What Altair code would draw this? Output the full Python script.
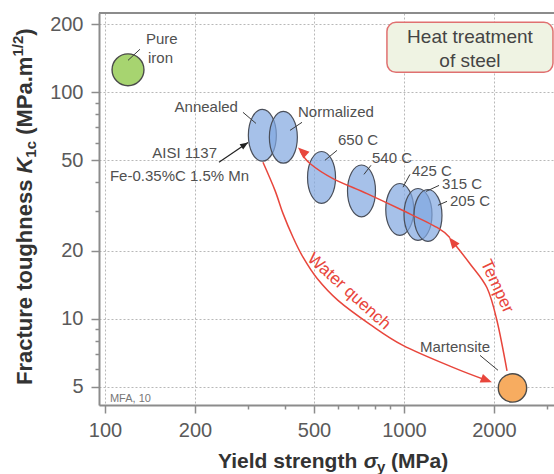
import altair as alt
import pandas as pd

FONT = "Liberation Sans"
RED = "#e8463c"
TXT = "#505050"

# ---------------- axes ----------------
X_DOMAIN = [95.5, 3175]
Y_DOMAIN = [4.16, 224]
x_major = [100, 200, 500, 1000, 2000]
x_minor = [300, 400, 600, 700, 800, 900, 3000]
y_major = [5, 10, 20, 50, 100, 200]
y_minor = [6, 7, 8, 9, 30, 40, 60, 70, 80, 90]

# ---------------- materials ----------------
circle_names = ["Pure iron", "Martensite"]
circle_sigma = [119.4, 2306]
circle_k1c = [125.7, 4.95]

ellipse_names = ["Annealed", "Normalized", "650 C", "540 C", "425 C", "315 C", "205 C"]
ellipse_sigma = [336, 395, 530, 721, 968, 1114, 1203]
ellipse_k1c = [64.6, 63.3, 42.1, 36.7, 30.4, 28.9, 28.6]

# ---------------- labels ----------------
label_text = ["Pure", "iron", "Annealed", "Normalized", "650 C", "540 C", "425 C",
              "315 C", "205 C", "AISI 1137", "Fe-0.35%C 1.5% Mn", "Martensite"]
label_sigma = [137.1, 139.3, 278.5, 442, 601.5, 781.6, 1063, 1340, 1425, 237, 103.9, 1131]
label_k1c = [171.4, 141.3, 85.9, 81.6, 61.4, 51.1, 44.8, 39.2, 33.0, 53.8, 42.6, 7.47]
label_side = ["left", "left", "right", "left", "left", "left", "left",
              "left", "left", "right", "left", "left"]

# leader lines (label -> marker)
leader_sigma1 = [130.9, 289.4, 456, 597, 775.6, 1047, 1310, 1393, 1796]
leader_k1c1 = [154.9, 81.6, 73.7, 55.4, 47.6, 43.4, 38.8, 33.0, 6.89]
leader_sigma2 = [119.4, 319.9, 415.7, 544.3, 734.8, 992.4, 1185, 1299, 2063]
leader_k1c2 = [138.4, 72.9, 67.9, 50.1, 43.4, 38.1, 36.5, 31.7, 5.92]

# AISI arrow
aisi_sigma = [240.6, 300.9]
aisi_k1c = [49.1, 60.1]

# process paths
quench_sigma = [337.6, 370.3, 393.8, 425.4, 459.5, 511.7, 601.5, 769.6, 992, 1458, 1895]
quench_k1c = [49.1, 36.9, 29.2, 22.9, 18.7, 15.1, 12.06, 9.45, 7.63, 6.10, 5.34]
temper_sigma = [2211, 2047, 1895, 1662, 1447]
temper_k1c = [5.89, 9.80, 13.7, 17.5, 22.1]
trend_sigma = [1425, 1289.5, 992, 752, 578.8, 484.9, 450]
trend_k1c = [22.8, 25.3, 30.05, 35.7, 41.6, 48.5, 55.0]

# arrow heads (tip position, screen angle)
head_sigma = [1969, 1414, 442]
head_k1c = [5.24, 22.9, 57.1]
head_angle = [21, 232, 222]

# process labels
proc_text = ["Water quench", "Temper"]
proc_sigma = [654.6, 2047]
proc_k1c = [13.2, 13.9]
proc_angle = [42, 65]

# box
box_sigma = [877, 3150]
box_k1c = [203.8, 122.5]
box_text = ["Heat treatment", "of steel"]
box_text_sigma = [1662, 1662]
box_text_k1c = [175, 137]

# ---------------- scales / axes ----------------
XT = "indexof([100,200,500,1000,2000], datum.value) >= 0"
YT = "indexof([5,10,20,50,100,200], datum.value) >= 0"

xscale = alt.Scale(type="log", domain=X_DOMAIN, nice=False)
yscale = alt.Scale(type="log", domain=Y_DOMAIN, nice=False)

common_axis = dict(
    title=None, labelFont=FONT, labelFontSize=20, labelColor="#5a5a5a",
    domainColor="#8c8c8c", domainWidth=2, tickColor="#8c8c8c", tickWidth=1.5,
    gridColor="#b8b8b8", gridDash=[2, 2], gridWidth=1, format="d",
)
x_axis = alt.Axis(
    values=x_major + x_minor,
    labelExpr=f"{XT} ? datum.label : ''",
    tickSize={"condition": {"test": XT, "value": 8}, "value": 4},
    gridOpacity={"condition": {"test": XT, "value": 1}, "value": 0},
    labelPadding=7, labelFlush=False, labelOverlap=False,
    **common_axis,
)
y_axis = alt.Axis(
    values=y_major + y_minor,
    labelExpr=f"{YT} ? datum.label : ''",
    tickSize={"condition": {"test": YT, "value": 8}, "value": 4},
    gridOpacity={"condition": {"test": YT, "value": 1}, "value": 0},
    labelPadding=8, labelFlush=False, labelOverlap=False,
    **common_axis,
)


def X(f="x"):
    return alt.X(f"{f}:Q", scale=xscale, axis=x_axis)


def Y(f="y"):
    return alt.Y(f"{f}:Q", scale=yscale, axis=y_axis)


# ---------------- data frames ----------------
df_ell = pd.DataFrame({"name": ellipse_names, "x": ellipse_sigma, "y": ellipse_k1c})
df_circ = pd.DataFrame({"name": circle_names, "x": circle_sigma, "y": circle_k1c,
                        "fill": ["#a7d470", "#f7ac60"], "size": [1018, 804]})
df_lab = pd.DataFrame({"t": label_text, "x": label_sigma, "y": label_k1c, "side": label_side})
df_lead = pd.DataFrame({"x": leader_sigma1, "y": leader_k1c1, "x2": leader_sigma2, "y2": leader_k1c2})
curves = []
for name, xs, ys in [("quench", quench_sigma, quench_k1c),
                     ("temper", temper_sigma, temper_k1c),
                     ("trend", trend_sigma, trend_k1c)]:
    for i, (a, b) in enumerate(zip(xs, ys)):
        curves.append({"c": name, "o": i, "x": a, "y": b})
df_curves = pd.DataFrame(curves)
df_heads = pd.DataFrame({"x": head_sigma, "y": head_k1c, "a": head_angle})
df_proc = pd.DataFrame({"t": proc_text, "x": proc_sigma, "y": proc_k1c, "a": proc_angle})

ELLIPSE = "M0,-1.85A1,1.85,0,1,1,0,1.85A1,1.85,0,1,1,0,-1.85Z"
ARROW = "M0,0L-2,-0.8L-2,0.8Z"

layers = []

# top frame line
layers.append(
    alt.Chart(alt.Data(values=[{"x": X_DOMAIN[0], "x2": X_DOMAIN[1], "y": Y_DOMAIN[1]}]))
    .mark_rule(color="#8c8c8c", strokeWidth=2)
    .encode(x=X(), x2="x2:Q", y=Y())
)

# box
layers.append(
    alt.Chart(alt.Data(values=[{"x": box_sigma[0], "x2": box_sigma[1], "y": box_k1c[0], "y2": box_k1c[1]}]))
    .mark_rect(fill="#eff3e3", stroke="#e07070", strokeWidth=1.5, cornerRadius=9)
    .encode(x=X(), x2="x2:Q", y=Y(), y2="y2:Q")
)
layers.append(
    alt.Chart(pd.DataFrame({"t": box_text, "x": box_text_sigma, "y": box_text_k1c}))
    .mark_text(font=FONT, fontSize=19, color="#444444", align="center", baseline="middle")
    .encode(x=X(), y=Y(), text="t:N")
)

# ellipses
layers.append(
    alt.Chart(df_ell)
    .mark_point(shape=ELLIPSE, size=784, filled=True, fill="#80a7df", fillOpacity=0.7,
                stroke="#4a4f5a", strokeWidth=1.2, opacity=1)
    .encode(x=X(), y=Y())
)

# circles
layers.append(
    alt.Chart(df_circ)
    .mark_point(shape="circle", filled=True, stroke="#4a4a4a", strokeWidth=1.4, opacity=1)
    .encode(x=X(), y=Y(), fill=alt.Fill("fill:N", scale=None),
            size=alt.Size("size:Q", scale=None))
)

# leader lines
layers.append(
    alt.Chart(df_lead).mark_rule(color="#3a3a3a", strokeWidth=1)
    .encode(x=X(), y=Y(), x2="x2:Q", y2="y2:Q")
)
layers.append(
    alt.Chart(alt.Data(values=[{"x": aisi_sigma[0], "y": aisi_k1c[0], "x2": aisi_sigma[1], "y2": aisi_k1c[1]}]))
    .mark_rule(color="#222222", strokeWidth=1.2)
    .encode(x=X(), y=Y(), x2="x2:Q", y2="y2:Q")
)
layers.append(
    alt.Chart(alt.Data(values=[{"x": aisi_sigma[1], "y": aisi_k1c[1], "a": 326}]))
    .mark_point(shape=ARROW, size=64, filled=True, fill="#222222", opacity=1, strokeWidth=0)
    .encode(x=X(), y=Y(), angle=alt.Angle("a:Q", scale=None))
)

# process curves
layers.append(
    alt.Chart(df_curves).mark_line(color=RED, strokeWidth=1.5, interpolate="cardinal")
    .encode(x=X(), y=Y(), detail="c:N", order="o:Q")
)
layers.append(
    alt.Chart(df_heads)
    .mark_point(shape=ARROW, size=130, filled=True, fill=RED, opacity=1, strokeWidth=0)
    .encode(x=X(), y=Y(), angle=alt.Angle("a:Q", scale=None))
)
layers.append(
    alt.Chart(df_proc)
    .mark_text(font=FONT, fontSize=17, color=RED, align="center", baseline="middle")
    .encode(x=X(), y=Y(), text="t:N", angle=alt.Angle("a:Q", scale=None))
)

# labels
for side in ["left", "right"]:
    layers.append(
        alt.Chart(df_lab[df_lab.side == side])
        .mark_text(font=FONT, fontSize=15, color=TXT, align=side, baseline="middle")
        .encode(x=X(), y=Y(), text="t:N")
    )
layers.append(
    alt.Chart(alt.Data(values=[{"t": "MFA, 10", "x": 103.9, "y": 4.41}]))
    .mark_text(font=FONT, fontSize=11, color="#777777", align="left", baseline="middle")
    .encode(x=X(), y=Y(), text="t:N")
)

# ---------------- axis titles (rich text pieces) ----------------
W = {' ': .278, '(': .333, ')': .333, '.': .278, '/': .278, '1': .556, '2': .556,
     'F': .611, 'K': .722, 'M': .833, 'P': .667, 'Y': .667, 'a': .556, 'c': .556,
     'd': .611, 'e': .556, 'g': .611, 'h': .611, 'i': .278, 'l': .278, 'm': .889,
     'n': .611, 'o': .611, 'r': .389, 's': .556, 't': .333, 'u': .611, 'y': .556, 'σ': .62}


def tw(s, size):
    return sum(W.get(ch, .6) for ch in s) * size


def piece(text, x, y, size, italic=False, angle=0):
    return (
        alt.Chart(alt.Data(values=[{"t": text}]))
        .mark_text(text=text, font=FONT, fontSize=size, fontWeight="bold",
                   fontStyle="italic" if italic else "normal", angle=angle,
                   align="left", baseline="alphabetic", color="#333333")
        .encode(x=alt.value(x), y=alt.value(y))
    )


# x title: starts at plot-x 119, baseline plot-y 455
xt = [("Yield strength ", 21, False, 0), ("σ", 21, True, 0), ("y", 15, False, 4), (" (MPa)", 21, False, 0)]
cx = 119
for s, size, it, dy in xt:
    lead = len(s) - len(s.lstrip(" "))
    layers.append(piece(s.strip(" "), cx + tw(" " * lead, size), 455 + dy, size, it))
    cx += tw(s, size)

# y title: rotated, baseline plot-x -67, starts at plot-y 372
yt = [("Fracture toughness ", 22, False, 0), ("K", 22, True, 0), ("1c", 15, False, 4),
      (" (MPa.m", 22, False, 0), ("1/2", 15, False, -9), (")", 22, False, 0)]
cy = 372
for s, size, it, dx in yt:
    lead = len(s) - len(s.lstrip(" "))
    layers.append(piece(s.strip(" "), -67 + dx, cy - tw(" " * lead, size), size, it, angle=270))
    cy -= tw(s, size)

chart = (
    alt.layer(*layers)
    .properties(width=455, height=392,
                padding={"left": 99, "top": 13, "right": 0, "bottom": 69},
                autosize=alt.AutoSizeParams(type="none"))
    .configure_view(stroke=None)
    .configure(font=FONT)
)

chart.save("out.html", embed_options={"renderer": "svg", "actions": False})
